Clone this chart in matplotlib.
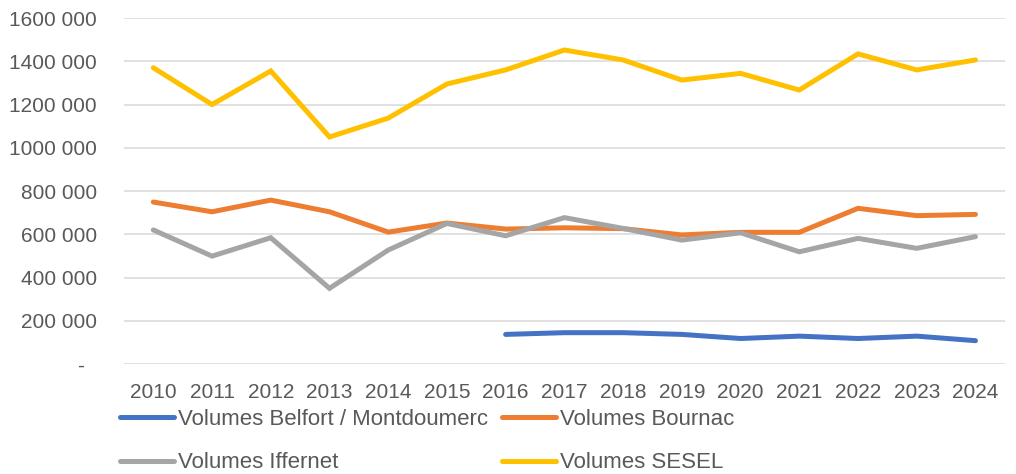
import matplotlib.pyplot as plt
from matplotlib.ticker import FuncFormatter

years = [str(y) for y in range(2010, 2025)]

belfort = [None] * 6 + [137000, 145000, 145000, 137000, 118000, 129000, 118000, 129000, 108000]
bournac = [749000, 704000, 758000, 704000, 610000, 652000, 624000, 630000, 626000,
           597000, 609000, 609000, 720000, 686000, 692000]
iffernet = [620000, 499000, 584000, 350000, 527000, 650000, 593000, 677000, 627000,
            573000, 607000, 519000, 581000, 535000, 589000]
sesel = [1370000, 1200000, 1355000, 1050000, 1137000, 1295000, 1360000, 1452000, 1406000,
         1313000, 1344000, 1267000, 1434000, 1360000, 1406000]

labels = ["Volumes Belfort / Montdoumerc", "Volumes Bournac",
          "Volumes Iffernet", "Volumes SESEL"]
colors = ["#4472C4", "#ED7D31", "#A5A5A5", "#FFC000"]

plt.rcParams["font.family"] = ["Liberation Sans", "DejaVu Sans"]
text_color = "#595959"


def fmt(v, _):
    # Excel-style: "1600 000", "800 000", zero as a dash
    if v == 0:
        return "-\u2007"
    s = f"{int(v):,}".replace(",", " ")
    if v >= 1000000:
        s = s.replace(" ", "", 1)
    return s


fig = plt.figure(figsize=(10.16, 4.74), dpi=100)
ax = fig.add_axes([0.122, 0.232, 0.867, 0.730])

x = list(range(len(years)))
handles = []
for series, lab, col in zip([belfort, bournac, iffernet, sesel], labels, colors):
    xs = [i for i, v in zip(x, series) if v is not None]
    ys = [v for v in series if v is not None]
    (h,) = ax.plot(xs, ys, color=col, lw=3.6, solid_capstyle="round",
                   solid_joinstyle="miter", label=lab)
    handles.append(h)

ax.set_xlim(-0.5, len(years) - 0.5)
ax.set_ylim(0, 1600000)
ax.set_yticks(range(0, 1600001, 200000))
ax.yaxis.set_major_formatter(FuncFormatter(fmt))
ax.set_xticks(x)
ax.set_xticklabels(years)
ax.grid(axis="y", color="#D9D9D9", lw=1.1)
ax.set_axisbelow(True)
for s in ax.spines.values():
    s.set_visible(False)
ax.tick_params(axis="y", length=0, pad=19.5, labelsize=15, labelcolor=text_color)
ax.tick_params(axis="x", length=0, pad=14, labelsize=15, labelcolor=text_color)

# row-wise order like Excel: Belfort, Bournac / Iffernet, SESEL
order = [0, 2, 1, 3]
fig.legend([handles[i] for i in order], [labels[i] for i in order],
           loc="upper left", bbox_to_anchor=(0.118, 0.137), ncol=2,
           frameon=False, fontsize=16, labelcolor=text_color,
           handlelength=2.43, handletextpad=0.18, columnspacing=0.63,
           labelspacing=1.0, borderpad=0, borderaxespad=0)

fig.savefig("out.png", dpi=100)
